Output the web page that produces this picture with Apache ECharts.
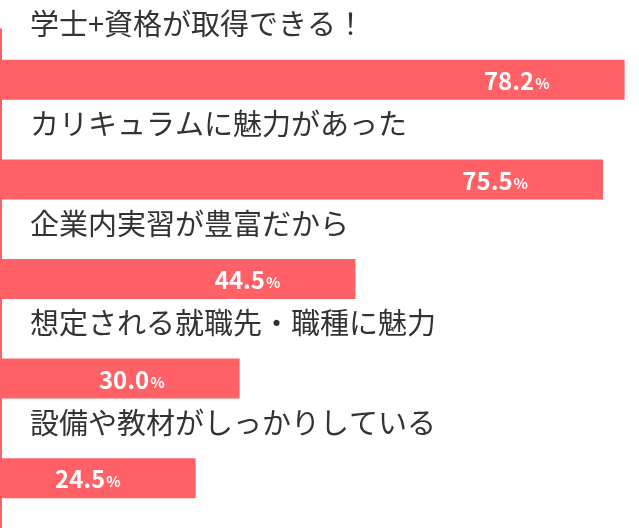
<!DOCTYPE html><html><head><meta charset="utf-8"><script src="https://cdn.jsdelivr.net/npm/echarts@6/dist/echarts.min.js"></script></head><body style="margin:0"><div id="c" style="width:639px;height:528px"></div><script>
const categories=["学士+資格が取得できる！","カリキュラムに魅力があった","企業内実習が豊富だから","想定される就職先・職種に魅力","設備や教材がしっかりしている"];
const values=[78.2,75.5,44.5,30.0,24.5];
const ch=echarts.init(document.getElementById('c'));
const F='"Noto Sans CJK JP","Noto Sans",sans-serif';
ch.setOption({animation:false,
grid:{left:0,right:0,top:30,height:500},
xAxis:{type:'value',min:0,max:80,show:false},
yAxis:{type:'category',inverse:true,data:categories,axisLabel:{show:false},axisTick:{show:false},axisLine:{show:true,lineStyle:{color:'#ff6166',width:4}}},
series:[
{type:'bar',data:values,barWidth:40,itemStyle:{color:'#ff6166'},z:2,
 label:{show:true,position:'insideRight',offset:[-70,1],formatter:p=>'{a|'+p.value.toFixed(1)+'}{b|%}',
 rich:{a:{color:'#fff',fontSize:24,fontWeight:'bold',fontFamily:F},b:{color:'#fff',fontSize:15,fontWeight:'bold',fontFamily:F,padding:[5,0,0,1]}}}},
{type:'bar',data:values,barWidth:40,barGap:'-100%',itemStyle:{color:'transparent'},z:3,
 label:{show:true,position:[30,-50],formatter:p=>p.name,color:'#333',fontSize:29,fontFamily:F}}
]});
</script></body></html>
